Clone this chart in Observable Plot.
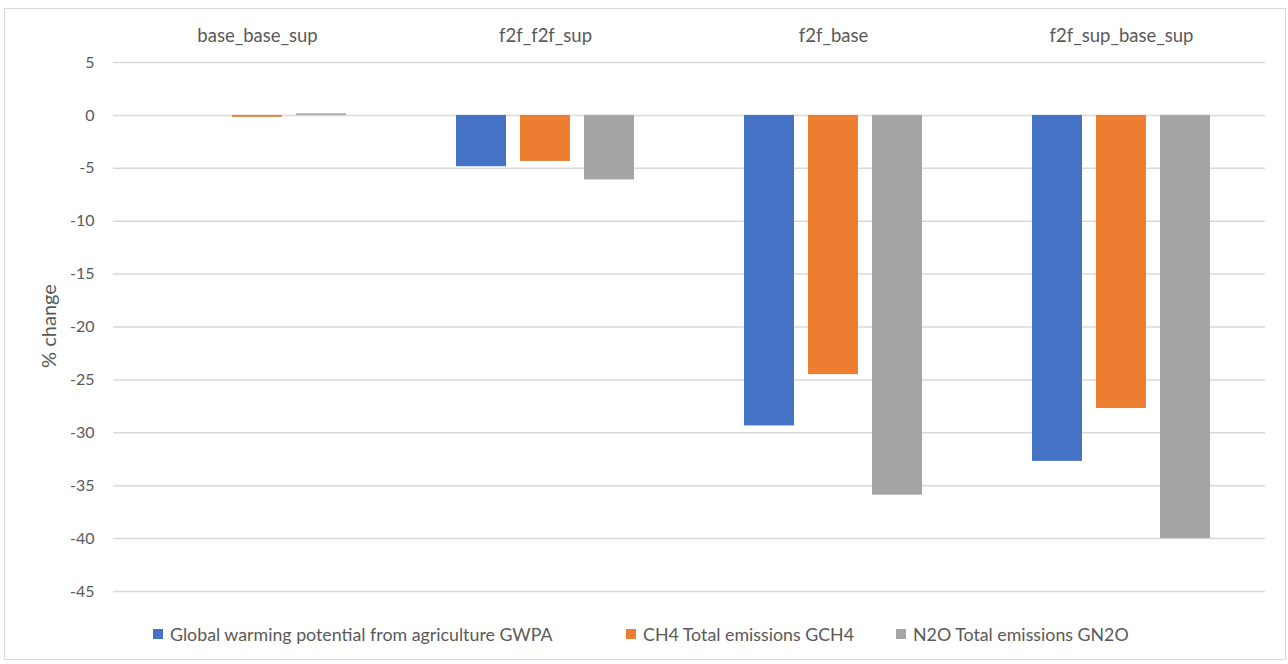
<!DOCTYPE html>
<html>
<head>
<meta charset="utf-8">
<script src="https://cdn.jsdelivr.net/npm/d3@7"></script>
<script src="https://cdn.jsdelivr.net/npm/@observablehq/plot@0.6"></script>
<style>
  html, body { margin: 0; padding: 0; background: #fff; }
  body { width: 1288px; height: 664px; position: relative; overflow: hidden; font-family: Lato, "Open Sans", sans-serif; color: #595959; }
  #frame { position: absolute; left: 4px; top: 8px; width: 1282px; height: 652px; border: 1px solid #d9d9d9; box-sizing: border-box; }
  #chart { position: absolute; left: 0; top: 0; }
  #ylabel { position: absolute; left: 48px; top: 326px; transform: translate(-50%, -50%) rotate(-90deg); font-size: 20px; white-space: nowrap; }
  .leg { position: absolute; top: 623px; font-size: 17.8px; line-height: 22px; display: flex; align-items: center; white-space: nowrap; }
  .leg .sw { width: 10px; height: 10px; margin-right: 7px; }
  #chart svg g[aria-label="fx-axis tick label"] text { font-size: 18.5px; }
</style>
</head>
<body>
<div id="frame"></div>
<div id="chart"></div>
<div id="ylabel">% change</div>
<div id="legend"></div>
<script>
const categories = ["base_base_sup", "f2f_f2f_sup", "f2f_base", "f2f_sup_base_sup"];
const series = ["Global warming potential from agriculture GWPA", "CH4 Total emissions GCH4", "N2O Total emissions GN2O"];
const gwpa = [0, -4.85, -29.35, -32.7];
const gch4 = [-0.18, -4.35, -24.5, -27.7];
const gn2o = [0.15, -6.1, -35.9, -40.0];
const yTicks = [5, 0, -5, -10, -15, -20, -25, -30, -35, -40, -45];
const colors = ["#4472C4", "#ED7D31", "#A5A5A5"];

const seriesValues = [gwpa, gch4, gn2o];
const data = categories.flatMap((c, i) => series.map((s, j) => ({category: c, series: s, value: seriesValues[j][i]})));

const chart = Plot.plot({
  width: 1288,
  height: 610,
  marginLeft: 113,
  marginRight: 23,
  marginTop: 62,
  marginBottom: 19,
  style: {fontFamily: "Lato, 'Open Sans', sans-serif", fontSize: "16px", color: "#595959", background: "transparent"},
  fx: {domain: categories, padding: 0, label: null},
  x: {domain: series, paddingInner: 0.21875, paddingOuter: 0.859, axis: null},
  y: {domain: [-45, 5], label: null},
  color: {domain: series, range: colors},
  marks: [
    Plot.gridY(yTicks, {stroke: "#d9d9d9", strokeOpacity: 1, strokeWidth: 1.5}),
    Plot.axisY(yTicks, {tickSize: 0, tickPadding: 19, label: null, tickFormat: d => String(d), fill: "#595959"}),
    Plot.axisFx({anchor: "top", tickSize: 0, tickPadding: 21, label: null, fill: "#595959", fontSize: 18.5}),
    Plot.barY(data, {fx: "category", x: "series", y: "value", fill: "series"})
  ]
});
document.getElementById("chart").appendChild(chart);

const legendLeft = [153, 626, 896];
const legend = document.getElementById("legend");
series.forEach((s, j) => {
  const item = document.createElement("div");
  item.className = "leg";
  item.style.left = legendLeft[j] + "px";
  const sw = document.createElement("span");
  sw.className = "sw";
  sw.style.background = colors[j];
  const t = document.createElement("span");
  t.textContent = s;
  item.appendChild(sw);
  item.appendChild(t);
  legend.appendChild(item);
});
</script>
</body>
</html>
